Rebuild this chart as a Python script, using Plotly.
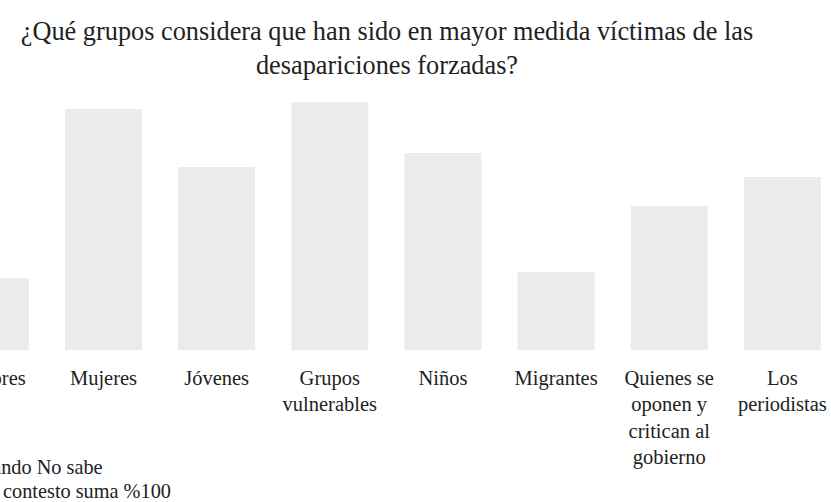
import plotly.graph_objects as go

categories = ["Menores", "Mujeres", "Jóvenes", "Grupos<br>vulnerables", "Niños",
              "Migrantes", "Quienes se<br>oponen y<br>critican al<br>gobierno", "Los<br>periodistas"]
values = [7.2, 24.1, 18.3, 24.8, 19.7, 7.8, 14.4, 17.3]
title_text = "¿Qué grupos considera que han sido en mayor medida víctimas de las<br>desapariciones forzadas?"
note_lines = ["Considerando No sabe", "y No contesto suma %100"]

FONT = "Liberation Serif, Times New Roman, serif"
TXT = "#222222"
x_range = [0.0853, 7.4297]
idx = list(range(len(categories)))

fig = go.Figure(go.Bar(x=idx, y=values, marker=dict(color="#ebebeb", line=dict(width=0)),
                       hoverinfo="skip"))

fig.update_layout(
    width=831, height=502,
    margin=dict(l=0, r=0, t=100, b=152),
    paper_bgcolor="white", plot_bgcolor="white",
    bargap=0.32,
    showlegend=False,
    font=dict(family=FONT, color=TXT, size=20.5),
    title=dict(text=title_text, x=387 / 831, xanchor="center", xref="container",
               y=1 - 40 / 502, yanchor="middle", yref="container",
               font=dict(family=FONT, size=26.3, color=TXT)),
    xaxis=dict(range=x_range, tickmode="array", tickvals=idx, ticktext=categories,
               showgrid=False, zeroline=False, showline=False, ticks="",
               ticklabelstandoff=13,
               tickfont=dict(family=FONT, size=20.5, color=TXT), fixedrange=True),
    yaxis=dict(range=[0, 25], showgrid=False, zeroline=False, showline=False,
               showticklabels=False, ticks="", fixedrange=True),
)

# label of the first category, which sits partly outside the visible area
span = x_range[1] - x_range[0]
fig.add_annotation(text=categories[0], xref="paper", yref="paper",
                   x=(idx[0] - x_range[0]) / span, y=0, xanchor="center", yanchor="top",
                   yshift=-15, showarrow=False,
                   font=dict(family=FONT, size=20.5, color=TXT))

# note (its left part is outside the visible area)
note_right = [105, 173]
note_y = [467, 491]
for line, xr, yc in zip(note_lines, note_right, note_y):
    fig.add_annotation(text=line, xref="paper", yref="paper",
                       x=xr / 831, y=(350 - yc) / 250,
                       xanchor="right", yanchor="middle", showarrow=False,
                       font=dict(family=FONT, size=20.3, color=TXT))

fig.write_html("out.html")
